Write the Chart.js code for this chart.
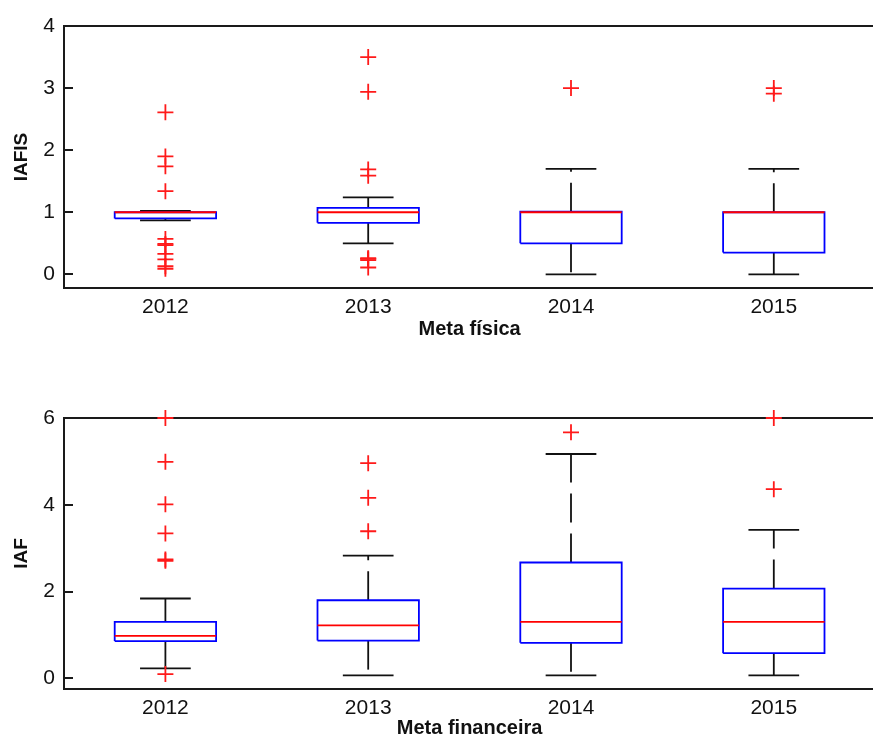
<!DOCTYPE html>
<html>
<head>
<meta charset="utf-8">
<title>IAFIS / IAF boxplots</title>
<script src="https://cdn.jsdelivr.net/npm/chart.js@4.4.1/dist/chart.umd.min.js"></script>
<style>
  html, body { margin: 0; padding: 0; background: #fff; width: 873px; height: 738px; overflow: hidden; }
  canvas { position: absolute; left: 0; }
  #fisChart { top: 0; }
  #finChart { top: 360px; }
</style>
</head>
<body>
<canvas id="fisChart" width="885" height="360"></canvas>
<canvas id="finChart" width="885" height="400"></canvas>
<script>
document.addEventListener('DOMContentLoaded', function() {
  const years = ['2012', '2013', '2014', '2015'];

  // IAFIS - Meta física
  const fisQ1 = [0.90, 0.83, 0.50, 0.35];
  const fisMedian = [1.00, 1.00, 1.00, 1.00];
  const fisQ3 = [1.00, 1.07, 1.01, 1.00];
  const fisLow = [0.87, 0.50, 0.00, 0.00];
  const fisHigh = [1.02, 1.24, 1.70, 1.70];
  const fisOutliers = [
    [2.61, 1.90, 1.74, 1.34, 0.57, 0.49, 0.47, 0.33, 0.24, 0.13, 0.09],
    [3.50, 2.94, 1.69, 1.59, 0.26, 0.25, 0.23, 0.11],
    [3.00],
    [3.00, 2.91]
  ];
  const fisTicks = [0, 1, 2, 3, 4];

  // IAF - Meta financeira
  const finQ1 = [0.86, 0.87, 0.82, 0.58];
  const finMedian = [0.98, 1.22, 1.30, 1.30];
  const finQ3 = [1.30, 1.80, 2.67, 2.07];
  const finLow = [0.23, 0.07, 0.07, 0.07];
  const finHigh = [1.84, 2.83, 5.17, 3.42];
  const finOutliers = [
    [6.00, 4.99, 4.01, 3.34, 2.74, 2.71, 0.10],
    [4.96, 4.16, 3.39],
    [5.67],
    [6.00, 4.36]
  ];
  const finTicks = [0, 2, 4, 6];

  const BOX_HALF = 0.25;
  const CAP_HALF = 0.125;
  const AXIS_COLOR = '#1a1a1a';
  const TEXT_COLOR = '#111';
  const LW = 1.8;

  Chart.defaults.font.family = '"Liberation Sans", Arial, sans-serif';

  function lineSet(points, color, dash, order) {
    return {
      type: 'scatter',
      data: points,
      showLine: true,
      borderColor: color,
      borderWidth: LW,
      borderDash: dash,
      pointRadius: 0,
      order: order,
      clip: false
    };
  }

  // turn the summary arrays into boxes, whiskers, medians and outliers
  function boxDatasets(q1, med, q3, low, high, outliers) {
    const sets = [];
    q1.forEach(function(_, i) {
      const x = i + 1;
      sets.push(lineSet([{x: x, y: q3[i]}, {x: x, y: high[i]}], '#111', [29, 11], 5));
      sets.push(lineSet([{x: x, y: q1[i]}, {x: x, y: low[i]}], '#111', [29, 11], 5));
      sets.push(lineSet([{x: x - CAP_HALF, y: high[i]}, {x: x + CAP_HALF, y: high[i]}], '#111', [], 4));
      sets.push(lineSet([{x: x - CAP_HALF, y: low[i]}, {x: x + CAP_HALF, y: low[i]}], '#111', [], 4));
      sets.push(lineSet([
        {x: x - BOX_HALF, y: q1[i]}, {x: x + BOX_HALF, y: q1[i]},
        {x: x + BOX_HALF, y: q3[i]}, {x: x - BOX_HALF, y: q3[i]},
        {x: x - BOX_HALF, y: q1[i]}
      ], '#0000ff', [], 3));
      sets.push(lineSet([{x: x - BOX_HALF, y: med[i]}, {x: x + BOX_HALF, y: med[i]}], '#ff0000', [], 2));
    });
    const pts = [];
    outliers.forEach(function(list, i) {
      list.forEach(function(v) { pts.push({x: i + 1, y: v}); });
    });
    sets.push({
      type: 'scatter',
      data: pts,
      pointStyle: 'cross',
      pointRadius: 8,
      pointBorderWidth: 1.8,
      borderColor: '#ff1a1a',
      backgroundColor: '#ff1a1a',
      order: 1,
      clip: false
    });
    return sets;
  }

  function makeChart(id, cfg) {
    const ctx = document.getElementById(id).getContext('2d');
    return new Chart(ctx, {
      type: 'scatter',
      data: { datasets: boxDatasets(cfg.q1, cfg.med, cfg.q3, cfg.low, cfg.high, cfg.outliers) },
      options: {
        responsive: false,
        animation: false,
        events: [],
        layout: { padding: { top: cfg.padTop, left: 0, right: 0, bottom: 0 } },
        plugins: { legend: { display: false }, tooltip: { enabled: false } },
        scales: {
          x: {
            type: 'linear',
            min: 0.5,
            max: 4.5,
            afterBuildTicks: function(s) { s.ticks = years.map(function(_, i) { return {value: i + 1}; }); },
            afterFit: function(s) { s.height = cfg.xHeight; },
            grid: { display: false, drawTicks: false },
            border: { display: true, color: AXIS_COLOR, width: 2 },
            ticks: {
              padding: 7,
              color: TEXT_COLOR,
              autoSkip: false,
              maxRotation: 0,
              font: { size: 21 },
              callback: function(v) { return years[v - 1]; }
            },
            title: {
              display: true,
              text: cfg.xTitle,
              color: TEXT_COLOR,
              font: { size: 20, weight: 'bold' },
              padding: { top: 0, bottom: cfg.xTitlePad }
            }
          },
          top: {
            type: 'linear',
            position: 'top',
            min: 0.5,
            max: 4.5,
            afterFit: function(s) { s.height = 0; },
            grid: { display: false, drawTicks: false },
            border: { display: true, color: AXIS_COLOR, width: 2 },
            ticks: { display: false }
          },
          y: {
            min: cfg.yMin,
            max: cfg.yMax,
            afterBuildTicks: function(s) { s.ticks = cfg.yTicks.map(function(v) { return {value: v}; }); },
            afterFit: function(s) {
              s.width = 64;
              s.paddingTop = 0;
              s.paddingBottom = 0;
            },
            grid: { drawOnChartArea: false, drawTicks: true, tickLength: -9, color: AXIS_COLOR, lineWidth: 2 },
            border: { display: true, color: AXIS_COLOR, width: 2 },
            ticks: { padding: 18, color: TEXT_COLOR, font: { size: 21 } },
            title: {
              display: true,
              text: cfg.yTitle,
              color: TEXT_COLOR,
              font: { size: 19, weight: 'bold' },
              padding: { top: 10, bottom: 0 }
            }
          }
        }
      }
    });
  }

  makeChart('fisChart', {
    q1: fisQ1, med: fisMedian, q3: fisQ3, low: fisLow, high: fisHigh, outliers: fisOutliers,
    yMin: -0.22, yMax: 4, yTicks: fisTicks,
    yTitle: 'IAFIS', xTitle: 'Meta física',
    padTop: 26, xHeight: 72, xTitlePad: 19
  });

  makeChart('finChart', {
    q1: finQ1, med: finMedian, q3: finQ3, low: finLow, high: finHigh, outliers: finOutliers,
    yMin: -0.245, yMax: 6, yTicks: finTicks,
    yTitle: 'IAF', xTitle: 'Meta financeira',
    padTop: 58, xHeight: 71, xTitlePad: 20
  });
});
</script>
</body>
</html>
